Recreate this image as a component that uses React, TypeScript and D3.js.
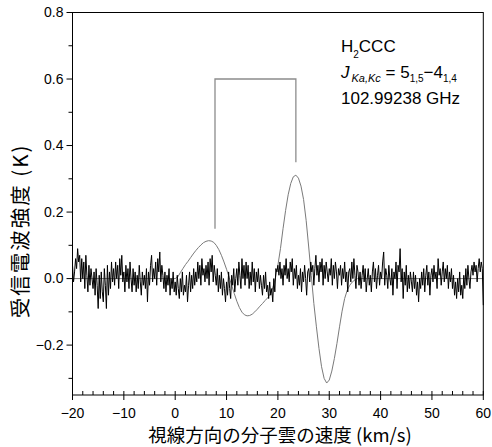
import React from "react";
import * as d3 from "d3";

// observed spectrum: -20 .. 60 km/s, one channel every 0.2 km/s
const noiseStart = -20;
const noiseStep = 0.2;
const noiseValues = [
  0.04, -0.01, 0.02, 0.06, 0.03, 0.09, 0.05, 0.07, -0.01, 0.06,
  0.0, 0.05, -0.03, 0.07, 0.01, -0.04, 0.04, -0.02, 0.03, 0.0,
  -0.03, 0.02, -0.05, 0.03, -0.02, -0.09, 0.01, -0.06, 0.02, -0.04,
  -0.07, 0.03, -0.02, -0.09, 0.04, -0.05, 0.02, -0.03, 0.05, -0.01,
  0.03, -0.02, 0.05, 0.0, 0.04, -0.03, 0.06, 0.01, 0.07, -0.01,
  0.02, -0.04, 0.04, -0.01, 0.03, -0.03, 0.05, 0.0, -0.04, 0.03,
  -0.02, 0.02, -0.04, 0.01, -0.03, 0.04, -0.01, -0.05, 0.02, -0.02,
  0.01, -0.03, 0.03, -0.07, 0.02, -0.02, 0.04, 0.07, -0.01, 0.03,
  0.0, 0.05, -0.02, 0.06, 0.02, 0.08, -0.01, 0.04, 0.01, -0.03,
  0.02, -0.04, 0.01, -0.02, 0.03, -0.05, 0.0, -0.03, 0.02, -0.04,
  -0.01, -0.05, 0.01, -0.03, -0.06, 0.0, -0.04, 0.02, -0.05, -0.02,
  -0.04, 0.01, -0.07, -0.02, 0.02, -0.04, 0.01, -0.03, 0.03, -0.02,
  0.02, -0.01, 0.05, 0.0, 0.04, -0.02, 0.06, 0.01, 0.03, -0.01,
  0.04, 0.0, 0.05, -0.02, 0.06, 0.02, 0.07, -0.01, 0.04, 0.01,
  -0.02, 0.03, -0.04, 0.01, -0.03, 0.02, -0.05, 0.0, -0.03, -0.07,
  -0.01, -0.05, 0.02, -0.03, -0.06, 0.01, -0.02, 0.03, -0.04, 0.0,
  0.03, -0.02, 0.05, 0.01, -0.03, 0.06, 0.0, 0.04, -0.02, 0.05,
  0.0, 0.04, -0.03, 0.02, -0.02, 0.05, -0.01, 0.03, -0.04, 0.02,
  -0.01, 0.03, -0.03, 0.01, -0.02, -0.05, 0.01, -0.03, 0.02, -0.04,
  -0.02, -0.06, -0.01, -0.05, -0.03, -0.07, 0.0, -0.04, 0.03, 0.02,
  0.04, 0.01, 0.05, 0.0, 0.03, -0.02, 0.04, 0.01, 0.06, 0.0,
  0.03, -0.01, 0.05, 0.02, 0.06, -0.02, 0.03, 0.0, 0.04, -0.03,
  0.01, -0.02, 0.03, -0.04, 0.02, -0.01, 0.04, 0.0, -0.05, 0.02,
  0.03, -0.01, 0.05, 0.02, 0.04, -0.02, 0.03, 0.07, 0.01, 0.04,
  -0.01, 0.05, 0.02, 0.06, -0.02, 0.04, 0.0, 0.05, 0.02, -0.01,
  0.03, 0.01, 0.06, -0.02, 0.04, 0.0, 0.05, 0.02, -0.03, 0.03,
  0.01, 0.04, -0.02, 0.03, 0.0, 0.05, -0.01, 0.02, -0.04, 0.02,
  0.03, -0.01, 0.05, 0.0, 0.06, 0.01, -0.03, 0.04, 0.02, -0.02,
  0.02, -0.03, 0.01, 0.04, -0.01, 0.03, -0.04, 0.0, 0.03, -0.02,
  0.01, -0.04, 0.02, 0.05, -0.01, 0.03, -0.03, 0.01, 0.04, -0.02,
  0.02, 0.0, 0.05, 0.08, -0.02, 0.03, 0.01, -0.03, 0.04, 0.0,
  -0.02, 0.03, -0.05, 0.02, 0.0, 0.05, -0.03, 0.04, 0.02, 0.09,
  -0.01, 0.03, -0.06, 0.02, -0.02, 0.04, -0.04, 0.01, -0.03, 0.02,
  -0.01, -0.04, 0.02, -0.03, 0.01, -0.05, -0.01, -0.07, 0.0, -0.03,
  0.02, -0.02, 0.03, -0.04, 0.01, 0.04, -0.02, 0.02, -0.05, 0.01,
  0.03, -0.01, 0.04, 0.0, 0.02, -0.03, 0.06, 0.01, 0.03, -0.02,
  0.02, 0.05, -0.01, 0.03, 0.0, 0.04, -0.03, 0.02, -0.01, 0.03,
  -0.03, 0.01, -0.05, -0.01, -0.06, 0.0, -0.04, 0.02, -0.05, -0.02,
  -0.06, 0.01, -0.03, 0.03, -0.02, 0.04, 0.0, -0.03, 0.02, 0.04,
  0.01, 0.05, 0.02, 0.04, -0.01, 0.03, 0.06, 0.02, 0.05, 0.03,
  -0.08,
];

// model profile (grey curve)
const modelVel = [
  -20, 0, 0.5, 1, 1.5, 2, 2.5, 3, 3.5, 4, 4.5, 5, 5.5, 6, 6.5, 7, 7.5, 8, 8.5, 9,
  9.5, 10, 10.5, 11, 11.5, 12, 12.5, 13, 13.5, 14, 14.5, 15, 15.5, 16, 16.5, 17,
  17.5, 18, 18.5, 19, 19.5, 20, 20.5, 21, 21.5, 22, 22.5, 23, 23.5, 24, 24.5, 25,
  25.5, 26, 26.5, 27, 27.5, 28, 28.5, 29, 29.5, 30, 30.5, 31, 31.5, 32, 32.5, 33,
  33.5, 34, 34.5, 35, 35.5, 60,
];
const modelTemp = [
  0, 0, 0.005, 0.018, 0.03, 0.042, 0.052, 0.063, 0.074, 0.084, 0.093, 0.101, 0.108,
  0.112, 0.114, 0.113, 0.109, 0.1, 0.087, 0.07, 0.05, 0.028, 0.004, -0.02, -0.045,
  -0.068, -0.087, -0.101, -0.109, -0.112, -0.111, -0.107, -0.1, -0.092, -0.083,
  -0.075, -0.066, -0.058, -0.046, -0.028, 0.0, 0.04, 0.09, 0.15, 0.205, 0.252,
  0.286, 0.306, 0.311, 0.302, 0.278, 0.238, 0.175, 0.095, 0.01, -0.075, -0.145,
  -0.21, -0.265, -0.3, -0.314, -0.305, -0.278, -0.24, -0.195, -0.145, -0.098,
  -0.06, -0.035, -0.02, -0.01, -0.004, 0, 0,
];

// bracket marking the two components
const bracketVel = [7.75, 23.5];
const bracketTop = 0.6;
const bracketFoot = [0.15, 0.35];

const xTicks = [-20, -10, 0, 10, 20, 30, 40, 50, 60];
const xMinor = d3.range(-18, 60, 2).filter((v) => v % 10 !== 0);
const yTicks = [-0.2, 0.0, 0.2, 0.4, 0.6, 0.8];
const yMinor = [-0.3, -0.1, 0.1, 0.3, 0.5, 0.7];

const W = 492;
const H = 447;
const left = 72.5;
const right = 483.3;
const top = 12.5;
const bottom = 395;

const numFont = "'Liberation Sans', Arial, sans-serif";
const jpFont = "'Noto Sans CJK JP', sans-serif";

export default function App() {
  const x = d3.scaleLinear().domain([-20, 60]).range([left, right]);
  const y = d3.scaleLinear().domain([-0.35, 0.8]).range([bottom, top]);

  const noise = noiseValues.map((v, i) => [noiseStart + i * noiseStep, v] as [number, number]);
  const model = modelVel.map((v, i) => [v, modelTemp[i]] as [number, number]);
  const line = d3.line<[number, number]>().x((d) => x(d[0])).y((d) => y(d[1]));

  const bracket = line([
    [bracketVel[0], bracketFoot[0]],
    [bracketVel[0], bracketTop],
    [bracketVel[1], bracketTop],
    [bracketVel[1], bracketFoot[1]],
  ]);

  return (
    <svg width={W} height={H} style={{ position: "absolute", left: 0, top: 0 }}>
      <rect width={W} height={H} fill="#fff" />
      <path d={line(model) || ""} fill="none" stroke="#7a7a7a" strokeWidth={1} />
      <path d={line(noise) || ""} fill="none" stroke="#000" strokeWidth={1} />
      <path d={bracket || ""} fill="none" stroke="#8c8c8c" strokeWidth={1.3} />

      {/* frame */}
      <rect x={left} y={top} width={right - left} height={bottom - top} fill="none" stroke="#000" strokeWidth={1} />

      {/* y axis */}
      {yTicks.map((t) => (
        <g key={"y" + t}>
          <line x1={left - 6} x2={left} y1={y(t)} y2={y(t)} stroke="#000" />
          <text x={left - 9} y={y(t)} dy="0.35em" textAnchor="end" fontSize={14} fontFamily={numFont}>
            {t < 0 ? "\u2212" + Math.abs(t).toFixed(1) : t.toFixed(1)}
          </text>
        </g>
      ))}
      {yMinor.map((t) => (
        <line key={"ym" + t} x1={left - 4} x2={left} y1={y(t)} y2={y(t)} stroke="#000" />
      ))}

      {/* x axis */}
      {xTicks.map((t) => (
        <g key={"x" + t}>
          <line x1={x(t)} x2={x(t)} y1={bottom - 4} y2={bottom + 5} stroke="#000" />
          <text x={x(t)} y={bottom + 23} textAnchor="middle" fontSize={14} fontFamily={numFont}>
            {t < 0 ? "\u2212" + Math.abs(t) : t}
          </text>
        </g>
      ))}
      {xMinor.map((t) => (
        <line key={"xm" + t} x1={x(t)} x2={x(t)} y1={bottom - 4} y2={bottom} stroke="#000" />
      ))}

      <text x={280} y={442} textAnchor="middle" fontSize={18.5} fontFamily={jpFont}>
        視線方向の分子雲の速度 (km/s)
      </text>
      <text transform="translate(28,231) rotate(-90)" textAnchor="middle" fontSize={20.5}
        letterSpacing={2} fontFamily={jpFont}>
        受信電波強度 (K)
      </text>

      {/* line label */}
      <g fontFamily={numFont} fontSize={17}>
        <text x={341} y={52}>
          H<tspan fontSize={10} dy={6}>2</tspan>
          <tspan dy={-6}>CCC</tspan>
        </text>
        <text x={341} y={78}>
          <tspan fontStyle="italic">J</tspan>
          <tspan fontSize={11} fontStyle="italic" dy={4} dx={2}>Ka,Kc</tspan>
          <tspan dy={-4}> = 5</tspan>
          <tspan fontSize={10} dy={4}>1,5</tspan>
          <tspan dy={-4}>{"\u22124"}</tspan>
          <tspan fontSize={10} dy={4}>1,4</tspan>
        </text>
        <text x={341} y={104}>102.99238 GHz</text>
      </g>
    </svg>
  );
}
